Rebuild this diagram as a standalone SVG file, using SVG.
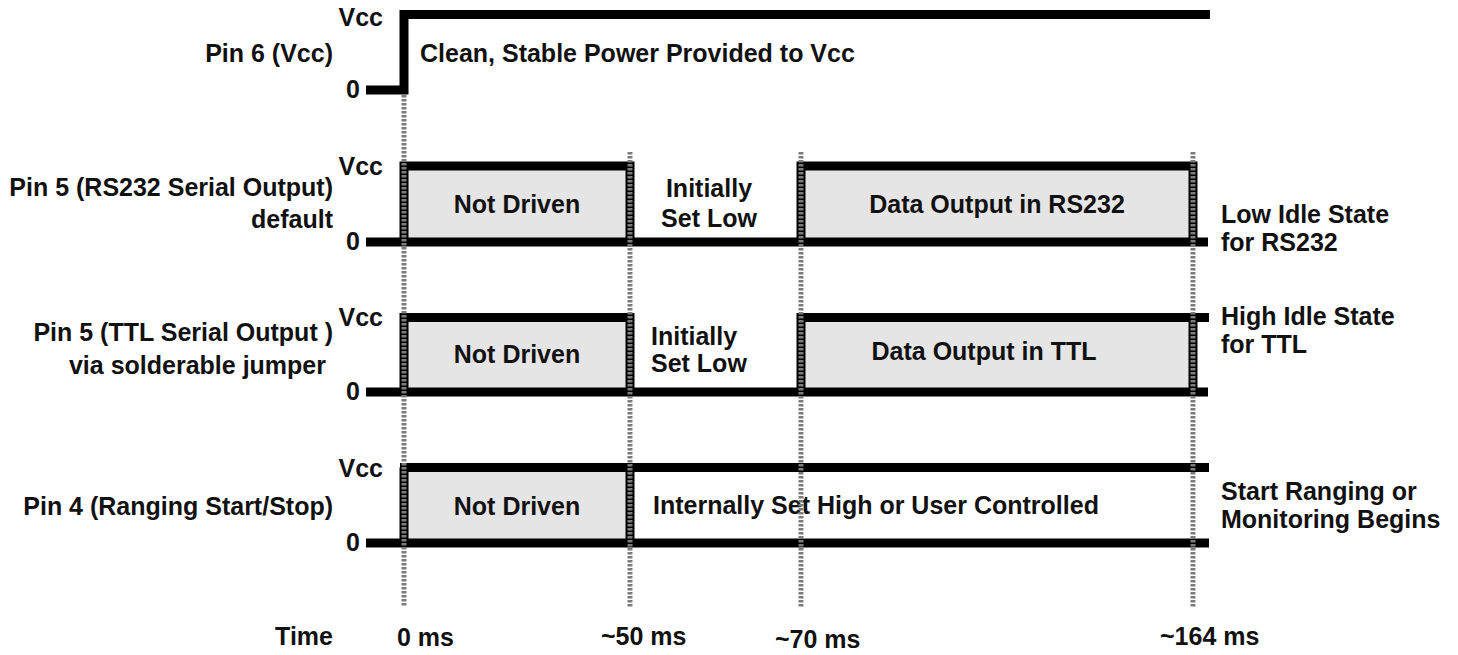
<svg xmlns="http://www.w3.org/2000/svg" width="1458" height="655" viewBox="0 0 1458 655">
<style>
text{font-family:"Liberation Sans",Arial,sans-serif;font-weight:bold;font-size:25px;fill:#111}
.e{text-anchor:end}
.m{text-anchor:middle}
.sig{fill:none;stroke:#000;stroke-width:9;stroke-linecap:butt;stroke-linejoin:miter}
.fill{fill:#e5e5e5}
.dash{fill:none;stroke:#7c7c7c;stroke-width:5;stroke-dasharray:2.5 1.5}
</style>
<rect width="1458" height="655" fill="#fff"/>
<g id="fills">
<rect class="fill" x="404" y="166" width="226" height="76"/>
<rect class="fill" x="801" y="166" width="392" height="76"/>
<rect class="fill" x="404" y="317.5" width="226" height="74.5"/>
<rect class="fill" x="801" y="317.5" width="392" height="74.5"/>
<rect class="fill" x="404" y="467.5" width="226" height="75.5"/>
</g>
<g id="pin6">
<path class="sig" d="M366,90 H404 V14.5 H1210"/>
<text class="e" x="333" y="62">Pin 6 (Vcc)</text>
<text class="e" x="383" y="26">Vcc</text>
<text class="e" x="360" y="98">0</text>
<text x="420" y="62">Clean, Stable Power Provided to Vcc</text>
</g>
<g id="pin5rs232">
<path class="sig" d="M366,242 H1208"/>
<path class="sig" d="M404,242 V166 H630 V242"/>
<path class="sig" d="M801,242 V166 H1193 V242"/>
<text class="e" x="333" y="196">Pin 5 (RS232 Serial Output)</text>
<text class="e" x="333" y="228">default</text>
<text class="e" x="383" y="175">Vcc</text>
<text class="e" x="360" y="250">0</text>
<text class="m" x="517" y="213">Not Driven</text>
<text class="m" x="709" y="197">Initially</text>
<text class="m" x="709" y="227">Set Low</text>
<text class="m" x="997" y="213">Data Output in RS232</text>
<text x="1221" y="223">Low Idle State</text>
<text x="1221" y="251">for RS232</text>
</g>
<g id="pin5ttl">
<path class="sig" d="M366,392 H1208"/>
<path class="sig" d="M404,392 V317.5 H630 V392"/>
<path class="sig" d="M801,392 V317.5 H1209"/>
<path class="sig" d="M1193,317.5 V392"/>
<text class="e" x="333" y="341">Pin 5 (TTL Serial Output )</text>
<text class="e" x="326" y="374">via solderable jumper</text>
<text class="e" x="383" y="326">Vcc</text>
<text class="e" x="360" y="400">0</text>
<text class="m" x="517" y="363">Not Driven</text>
<text x="651" y="345">Initially</text>
<text x="651" y="372">Set Low</text>
<text class="m" x="984" y="360">Data Output in TTL</text>
<text x="1221" y="325">High Idle State</text>
<text x="1221" y="353">for TTL</text>
</g>
<g id="pin4">
<path class="sig" d="M366,543 H1209"/>
<path class="sig" d="M400,467.5 H1209"/>
<path class="sig" d="M404,543 V467.5 M630,543 V467.5"/>
<text class="e" x="333" y="515">Pin 4 (Ranging Start/Stop)</text>
<text class="e" x="383" y="477">Vcc</text>
<text class="e" x="360" y="551">0</text>
<text class="m" x="517" y="515">Not Driven</text>
<text x="653" y="514">Internally Set High or User Controlled</text>
<text x="1221" y="500">Start Ranging or</text>
<text x="1221" y="528">Monitoring Begins</text>
</g>
<g id="connectors">
<path class="dash" d="M404,95 V607"/>
<path class="dash" d="M630,152 V607"/>
<path class="dash" d="M801,152 V607"/>
<path class="dash" d="M1193,152 V607"/>
</g>
<g id="time-axis">
<text class="e" x="333" y="645">Time</text>
<text x="397" y="646">0 ms</text>
<text x="601" y="645">~50 ms</text>
<text x="775" y="648">~70 ms</text>
<text x="1160" y="645">~164 ms</text>
</g>
</svg>
